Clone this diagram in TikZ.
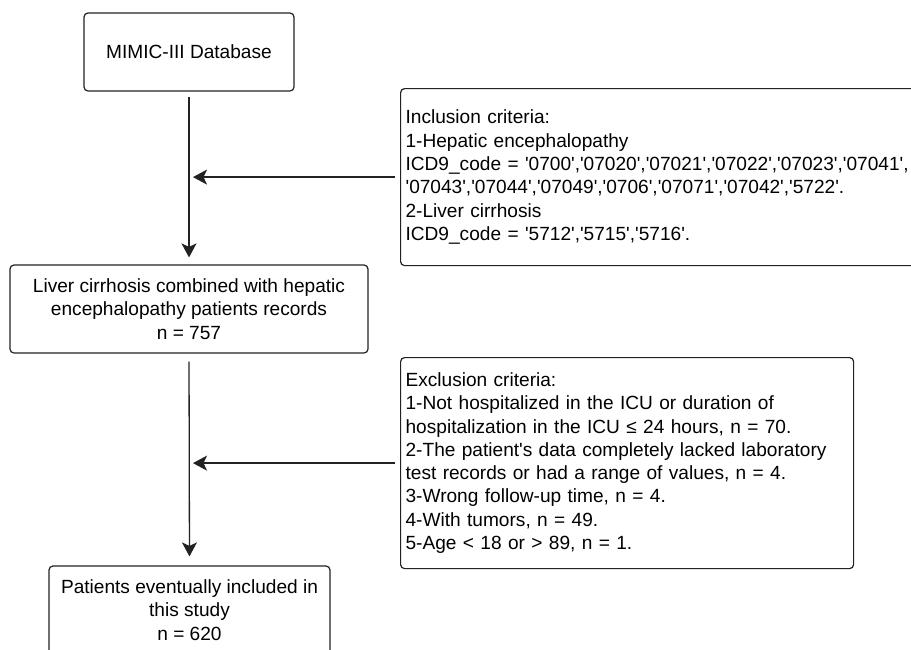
\documentclass[tikz,border=0pt]{standalone}
\usepackage{fontspec}
\newfontfamily\lsans{Liberation Sans}
\usetikzlibrary{arrows.meta}
\definecolor{linec}{HTML}{222222}
\begin{document}
\begin{tikzpicture}[x=1pt,y=-1pt,
  box/.style={draw=linec, line width=1.2pt, rounded corners=4pt, inner sep=0pt,
    align=center, font=\lsans\fontsize{19.1}{23.3}\selectfont, text=black},
  crit/.style={box, align=left, inner xsep=5pt, anchor=north west},
  flow/.style={draw=linec, line width=1.3pt, -{Stealth[length=14pt,width=15pt,inset=3.5pt]}}]
\useasboundingbox (0,0) rectangle (911,649);
\clip (0,0) rectangle (911,649);
\fill[white] (0,0) rectangle (911,649);

\node[box, minimum width=210pt, minimum height=78pt] (A) at (189,52) {MIMIC-III Database};
\node[box, minimum width=358pt, minimum height=88pt] (B) at (189,309)
  {Liver cirrhosis combined with hepatic\\encephalopathy patients records\\n = 757};
\node[box, minimum width=281pt, minimum height=88pt] (C) at (189.5,610)
  {Patients eventually included in\\this study\\n = 620};

\node[crit, text width=515pt, minimum height=177pt] (inc) at (400,88)
  {Inclusion criteria:\\
   1-Hepatic encephalopathy\\
   ICD9\_code = '0700','07020','07021','07022','07023','07041',\\
   '07043','07044','07049','0706','07071','07042','5722'.\\
   2-Liver cirrhosis\\
   ICD9\_code = '5712','5715','5716'.};

\node[crit, text width=443pt, minimum height=211pt] (exc) at (400,357)
  {Exclusion criteria:\\
   1-Not hospitalized in the ICU or duration of\\
   hospitalization in the ICU ≤ 24 hours, n = 70.\\
   2-The patient's data completely lacked laboratory\\
   test records or had a range of values, n = 4.\\
   3-Wrong follow-up time, n = 4.\\
   4-With tumors, n = 49.\\
   5-Age < 18 or > 89, n = 1.};

\draw[flow, shorten <=5pt, shorten >=7pt] (A.south) -- (B.north);
\draw[flow, shorten <=8pt, shorten >=9pt] (B.south) -- (C.north);
\draw[flow, shorten <=5pt, shorten >=4pt] (inc.west) -- (A.south |- inc.west);
\draw[flow, shorten <=5pt, shorten >=4pt] (exc.west) -- (A.south |- exc.west);
\end{tikzpicture}
\end{document}
